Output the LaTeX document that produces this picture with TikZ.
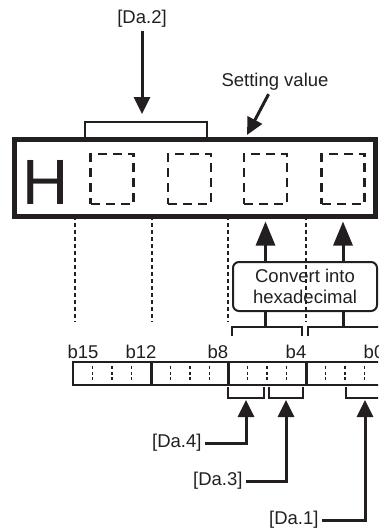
\documentclass[tikz,border=0pt]{standalone}
\usepackage{fontspec}
\setmainfont{Liberation Sans}
\usetikzlibrary{arrows.meta}
\definecolor{ink}{HTML}{231F20}
\begin{document}
\begin{tikzpicture}[x=1pt, y=-1pt, >={Triangle[length=17pt,width=16pt]},
			every node/.style={font=\fontsize{18.5}{21}\selectfont, text=ink}]
			\tikzset{
				arrow/.style={->, draw=ink, line width=3pt},
				bigarrow/.style={arrow, >={Triangle[length=24pt,width=19pt]}},
				stem/.style={draw=ink, line width=3pt},
				digit/.style={draw=ink, dash pattern=on 9pt off 6pt, line width=2.7pt,
						minimum width=43pt, minimum height=50pt},
				bracket/.style={draw=ink, line width=2pt},
				guide/.style={draw=ink, line width=2.7pt, dash pattern=on 4pt off 3pt},
			}
			\useasboundingbox (0,0) rectangle (378,530);
			\clip (0,0) rectangle (378,530);
			% display frame
			\node[draw=ink, line width=5pt, minimum width=361pt, minimum height=76.5pt, inner sep=0]
			(frame) at (195,177.75) {};
			\node[font=\fontsize{64}{64}\selectfont, inner sep=0] (hex) at (46,182) {H};
			\foreach \x/\n in {112/3,189.5/2,265.5/1,343/0}
				{
					\node[digit] (d\n) at (\x,179) {};
				}
			\draw[bracket] (85,137) |- (207,122) -- (207,137);
			\node (da2) at (142,19) {[Da.2]};
			\coordinate (top) at (142,114);
			\draw[arrow] (da2) -- (top);
			\node (setval) at (275,82) {Setting value};
			\coordinate (sv) at (247,135);
			\draw[arrow] (setval) -- (sv);
			% guides down to the bits
			\foreach \x in {75,152,228,306}
				{
					\draw[guide] (\x,216) -- (\x,322);
				}
			\node[draw=ink, line width=2pt, rounded corners=6pt, minimum width=144pt,
				minimum height=49pt, align=center, inner sep=0] (convert) at (305,286.5)
			{Convert into\\hexadecimal};
			\draw[bigarrow, shorten >=3pt] (convert.north -| d1) -- (frame.south -| d1);
			\draw[bigarrow, shorten >=3pt] (convert.north -| d0) -- (frame.south -| d0);
			\draw[stem] (convert.south -| d1) -- ++(0,16);
			\draw[stem] (convert.south -| d0) -- ++(0,16);
			\draw[bracket] (232,336) |- (302,327) -- (302,336);
			\draw[bracket] (308,336) |- (390,327);
			% bit register
			\draw[ink, line width=2pt] (73,362) rectangle (384,385);
			\foreach \x in {151,228,306}
				{
					\draw[ink, line width=3pt] (\x,362) -- (\x,385);
				}
			\foreach \c in {73,151,228,306}
				{
					\foreach \q in {1,2,3}{
							\draw[ink, line width=1.2pt, dash pattern=on 3pt off 2.5pt]
							({\c+\q*19.5},366) -- ({\c+\q*19.5},382);
						}
				}
			\foreach \l/\x in {15/83,12/141,8/218,4/296,0/374}
				{
					\node[anchor=base] (b\l) at (\x,358) {b\l};
				}
			\draw[bracket] (228,387) |- (264,398) -- (264,387);
			\draw[bracket] (269,387) |- (303,398) -- (303,387);
			\draw[bracket] (346,387) |- (390,398);
			% buffer memory items
			\node[anchor=east] (da4) at (205,443) {[Da.4]};
			\node[anchor=east] (da3) at (246,481) {[Da.3]};
			\node[anchor=east] (da1) at (322,520) {[Da.1]};
			\coordinate (t4) at (246,400);
			\coordinate (t3) at (286,400);
			\coordinate (t1) at (365,400);
			\draw[arrow] (da4) -| (t4);
			\draw[arrow] (da3) -| (t3);
			\draw[arrow] (da1) -| (t1);
		\end{tikzpicture}
\end{document}
